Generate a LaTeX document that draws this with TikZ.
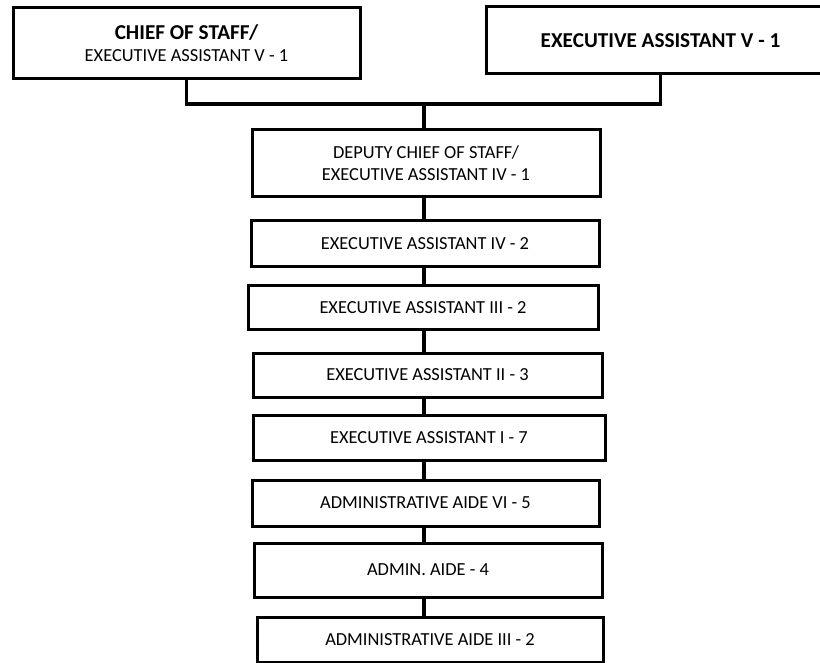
\documentclass[tikz,border=0pt]{standalone}
\usepackage{fontspec}
\setmainfont{Carlito}
\begin{document}
\begin{tikzpicture}[x=1pt,y=-1pt,
  pbox/.style={draw=black, line width=3pt, fill=white, rectangle, inner sep=0pt,
    align=center, font=\fontsize{18.4}{22.3}\selectfont},
  bold/.style={font=\fontsize{21.2}{22.4}\selectfont\bfseries},
  link/.style={draw=black, line width=3.2pt}]
\clip (0,0) rectangle (820,663);

% top level
\node[pbox, minimum width=347pt, minimum height=71pt] (b1) at (186.5,43)
  {{\fontsize{21.2}{22.4}\selectfont\bfseries CHIEF OF STAFF/}\\EXECUTIVE ASSISTANT V - 1};
\node[pbox, bold, minimum width=349pt, minimum height=67pt] (b2) at (660.5,40.5)
  {EXECUTIVE ASSISTANT V - 1};

% chain of positions
\node[pbox, minimum width=348pt, minimum height=67pt] (dep) at (426,163.5)
  {DEPUTY CHIEF OF STAFF/\\EXECUTIVE ASSISTANT IV - 1};
\node[pbox, minimum width=348pt, minimum height=46pt] (ea4) at (425,244) {EXECUTIVE ASSISTANT IV - 2};
\node[pbox, minimum width=350pt, minimum height=44pt] (ea3) at (423,308) {EXECUTIVE ASSISTANT III - 2};
\node[pbox, minimum width=349pt, minimum height=44pt] (ea2) at (427.5,375) {EXECUTIVE ASSISTANT II - 3};
\node[pbox, minimum width=352pt, minimum height=45pt] (ea1) at (429,437.5) {EXECUTIVE ASSISTANT I - 7};
\node[pbox, minimum width=347pt, minimum height=46pt] (aa6) at (425.5,503) {ADMINISTRATIVE AIDE VI - 5};
\node[pbox, minimum width=348pt, minimum height=54pt] (aa4) at (428,570) {ADMIN. AIDE - 4};
\node[pbox, minimum width=346pt, minimum height=45pt] (aa3) at (430,639.5) {ADMINISTRATIVE AIDE III - 2};

% connectors
\coordinate (j) at (424,104);
\draw[link] (b1.south) |- (j) -| (b2.south);
\draw[link] (j) -- (j |- dep.north);
\draw[link] (dep.south -| j) -- (ea4.north -| j);
\draw[link] (ea4.south -| j) -- (ea3.north -| j);
\draw[link] (ea3.south -| j) -- (ea2.north -| j);
\draw[link] (ea2.south -| j) -- (ea1.north -| j);
\draw[link] (ea1.south -| j) -- (aa6.north -| j);
\draw[link] (aa6.south -| j) -- (aa4.north -| j);
\draw[link] (aa4.south -| j) -- (aa3.north -| j);
\end{tikzpicture}
\end{document}
